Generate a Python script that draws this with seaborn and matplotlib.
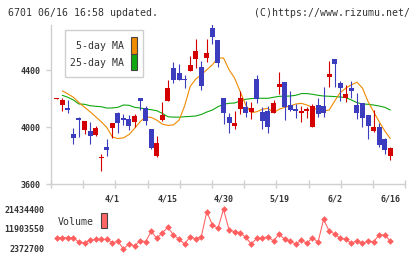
import numpy as np
import pandas as pd
import matplotlib
matplotlib.use("Agg")
import matplotlib.pyplot as plt
import seaborn as sns
from matplotlib.patches import Rectangle

# ---------------- data ----------------
title_left = "6701 06/16 16:58 updated."
title_right = "(C)https://www.rizumu.net/"
date_labels = ["4/1", "4/15", "4/30", "5/19", "6/2", "6/16"]
date_label_pos = [10, 20, 30, 40, 50, 60]
price_ticks = [3600, 4000, 4400]
volume_ticks = [2372700, 11903550, 21434400]

opens = [4198, 4157, 4134, 3955, 4066, 3981, 3972, 3944, 3781, 3859,
         3993, 4099, 4063, 4059, 4038, 4204, 4134, 3984, 3796, 4047,
         4186, 4414, 4378, 4338, 4390, 4477, 4421, 4482, 4693, 4611,
         4202, 4070, 4007, 4129, 4141, 4106, 4336, 4106, 4113, 4101,
         4284, 4317, 4155, 4127, 4101, 4110, 4002, 4155, 4148, 4348,
         4479, 4310, 4204, 4277, 4155, 4167, 4085, 3972, 4000, 3915,
         3798]
highs = [4203, 4202, 4190, 3993, 4070, 4042, 4035, 4007, 3814, 3915,
         4030, 4103, 4089, 4085, 4089, 4204, 4148, 3988, 3937, 4176,
         4331, 4454, 4440, 4367, 4500, 4618, 4461, 4618, 4721, 4611,
         4202, 4101, 4113, 4254, 4181, 4176, 4367, 4139, 4148, 4190,
         4383, 4317, 4254, 4160, 4148, 4139, 4162, 4202, 4280, 4465,
         4479, 4324, 4296, 4324, 4242, 4167, 4085, 4120, 4026, 3927,
         3861]
lows = [4198, 4115, 4101, 3882, 3932, 3955, 3885, 3937, 3692, 3796,
        3927, 3960, 4012, 3977, 4002, 4120, 4012, 3850, 3791, 4045,
        4186, 4308, 4331, 4277, 4390, 4414, 4261, 4454, 4581, 4423,
        4021, 3960, 3988, 4092, 4073, 4059, 4172, 3986, 3960, 4096,
        4233, 4049, 4115, 4063, 4038, 4066, 4002, 4068, 4073, 4284,
        4284, 4186, 4176, 4204, 4059, 4002, 3918, 3965, 3859, 3810,
        3767]
closes = [4203, 4190, 4122, 3925, 4049, 4042, 3939, 3991, 3791, 3840,
          4028, 4026, 4047, 4009, 4075, 4186, 4045, 3854, 3887, 4085,
          4273, 4331, 4331, 4327, 4437, 4536, 4291, 4519, 4630, 4447,
          4101, 4031, 4028, 4204, 4101, 4134, 4195, 4045, 4002, 4167,
          4303, 4139, 4120, 4110, 4113, 4125, 4148, 4089, 4101, 4374,
          4439, 4275, 4233, 4256, 4096, 4066, 4007, 4000, 3873, 3838,
          3852]

ma5 = [None, 4254, 4233, 4209, 4172, 4139, 4108, 4073, 4038, 3998,
       3932, 3920, 3925, 3948, 3991, 4038, 4073, 4068, 4049, 4021,
       4012, 4016, 4049, 4148, 4284, 4336, 4367, 4402, 4437, 4484,
       4484, 4402, 4343, 4249, 4155, 4101, 4108, 4125, 4132, 4101,
       4125, 4139, 4148, 4162, 4167, 4155, 4139, 4120, 4113, 4120,
       4183, 4242, 4273, 4296, 4315, 4273, 4179, 4108, 4038, 3974,
       3920]
ma25 = [None, 4223, 4209, 4190, 4162, 4160, 4150, 4146, 4143, 4134,
        4134, 4139, 4155, 4153, 4139, 4134, 4127, 4122, 4115, 4096,
        4073, 4070, 4070, 4073, 4075, 4078, 4089, 4106, 4120, 4143,
        4160, 4167, 4169, 4183, 4195, 4200, 4202, 4202, 4202, 4209,
        4216, 4216, 4218, 4223, 4235, 4235, 4230, 4223, 4218, 4216,
        4214, 4211, 4207, 4190, 4172, 4162, 4160, 4155, 4148, 4139,
        4120]
volume = [7760000, 7760000, 7760000, 7760000, 5570000, 5390000, 6500000, 6980000, 6980000, 6980000,
          5390000, 6030000, 2400000, 4760000, 3800000, 6340000, 5870000, 10790000, 7460000, 10160000,
          12700000, 9050000, 6980000, 4760000, 8250000, 7140000, 8250000, 20160000, 13810000, 12220000,
          21280000, 11430000, 10630000, 10160000, 7930000, 4760000, 7460000, 7460000, 8250000, 6180000,
          9520000, 6980000, 6030000, 4760000, 6660000, 5070000, 7760000, 5570000, 16510000, 10950000,
          9520000, 7460000, 7140000, 5070000, 6340000, 5070000, 6180000, 5870000, 9050000, 9050000,
          6180000]

# ---------------- style ----------------
sns.set_style("white")
plt.rcParams['font.family'] = ['DejaVu Sans Mono', 'DejaVu Sans']

RED = "#d40000"
BLUE = "#3c3cbe"
ORANGE = "#f08a00"
GREEN = "#10a810"
VOLC = "#ff5f5f"
AXC = "#cfcfcf"
TXT = "#333333"

W, H = 420, 259
fig = plt.figure(figsize=(W / 100, H / 100), dpi=100)
fig.patch.set_facecolor("white")

def fx(px):
    return px / W

def fy(py):
    return 1 - py / H

# main axes
ax = fig.add_axes([fx(51), fy(184.3), fx(405.3) - fx(51), fy(25) - fy(184.3)])
idx = np.arange(len(opens))
df = pd.DataFrame({"i": idx, "open": opens, "high": highs, "low": lows,
                   "close": closes, "ma5": ma5, "ma25": ma25, "vol": volume})
df["ma5"] = df["ma5"].astype(float)
df["ma25"] = df["ma25"].astype(float)

sns.lineplot(data=df, x="i", y="ma25", ax=ax, color=GREEN, lw=0.8, zorder=2)
sns.lineplot(data=df, x="i", y="ma5", ax=ax, color=ORANGE, lw=0.8, zorder=2)

up = df["close"] >= df["open"]
cols = np.where(up, RED, BLUE)
ax.vlines(df["i"], df["low"], df["high"], colors=cols, lw=0.8, zorder=3)
bottoms = np.minimum(df["open"], df["close"])
heights = np.maximum(np.abs(df["close"] - df["open"]), 9)
ax.bar(df["i"], heights, bottom=bottoms, width=0.9, color=cols, lw=0, zorder=4)

ax.set_xlim(-1.03, 62.7)
ax.set_ylim(3600, 4715)
ax.set_xlabel("")
ax.set_ylabel("")
for s in ["top", "right"]:
    ax.spines[s].set_visible(False)
for s in ["left", "bottom"]:
    ax.spines[s].set_color(AXC)
    ax.spines[s].set_linewidth(1.0)

xl = ax.get_xlim()
ax.set_xticks(np.linspace(xl[0], xl[1], 12))
ax.set_xticklabels([])
ax.set_xticks(date_label_pos, minor=True)
ax.set_xticklabels(date_labels, minor=True)
ax.tick_params(axis="x", which="major", direction="inout", length=6, width=1.0,
               color=AXC, bottom=True)
ax.tick_params(axis="x", which="minor", length=0, pad=7.2, labelsize=6.0,
               labelcolor=TXT, bottom=True)
ax.set_yticks(price_ticks)
ax.set_yticklabels([str(v) for v in price_ticks])
ax.tick_params(axis="y", direction="out", length=3.6, width=1.0, color=AXC,
               pad=4.0, labelsize=6.0, labelcolor=TXT, left=True)
for lab in ax.get_yticklabels() + ax.get_xticklabels(minor=True):
    lab.set_fontweight("bold")

# volume axes
vax = fig.add_axes([fx(51), fy(253), fx(405.3) - fx(51), fy(205) - fy(253)])
sns.lineplot(data=df, x="i", y="vol", ax=vax, color=VOLC, lw=0.75,
             marker="D", markersize=3.4, markeredgewidth=0, markerfacecolor=VOLC)
vax.set_xlim(ax.get_xlim())
vax.set_ylim(volume_ticks[0] - 4 * 476543, volume_ticks[2] + 4 * 476543)
vax.set_xticks([])
vax.set_yticks(volume_ticks)
vax.set_yticklabels([str(v) for v in volume_ticks])
vax.tick_params(axis="y", length=0, pad=4.8, labelsize=6.0, labelcolor=TXT)
for lab in vax.get_yticklabels():
    lab.set_fontweight("bold")
vax.set_xlabel("")
vax.set_ylabel("")
for s in vax.spines.values():
    s.set_visible(False)
vax.patch.set_alpha(0)

# header texts
fig.text(fx(8), fy(13), title_left, fontsize=7.1, color=TXT, ha="left", va="center")
fig.text(fx(410), fy(13), title_right, fontsize=7.1, color=TXT, ha="right", va="center")

# MA legend
fig.patches.append(Rectangle((fx(65), fy(77.3)), fx(143.3) - fx(65), fy(30) - fy(77.3),
                             transform=fig.transFigure, facecolor="white",
                             edgecolor=AXC, lw=1.0, zorder=5))
fig.text(fx(124), fy(46), "5-day MA", fontsize=7.1, color=TXT, ha="right", va="center", zorder=6)
fig.text(fx(124), fy(62.7), "25-day MA", fontsize=7.1, color=TXT, ha="right", va="center", zorder=6)
fig.patches.append(Rectangle((fx(131), fy(53.7)), fx(137.3) - fx(131), fy(37.3) - fy(53.7),
                             transform=fig.transFigure, facecolor=ORANGE,
                             edgecolor="#444444", lw=0.8, zorder=6))
fig.patches.append(Rectangle((fx(131), fy(70)), fx(137.3) - fx(131), fy(54.3) - fy(70),
                             transform=fig.transFigure, facecolor=GREEN,
                             edgecolor="#444444", lw=0.8, zorder=6))

# volume legend
fig.text(fx(58), fy(221.7), "Volume", fontsize=7.1, color=TXT, ha="left", va="center")
fig.patches.append(Rectangle((fx(101), fy(228.3)), fx(107.3) - fx(101), fy(213.3) - fy(228.3),
                             transform=fig.transFigure, facecolor="#ff6666",
                             edgecolor="#444444", lw=0.8, zorder=6))

fig.savefig("out.png", dpi=100, facecolor="white")
